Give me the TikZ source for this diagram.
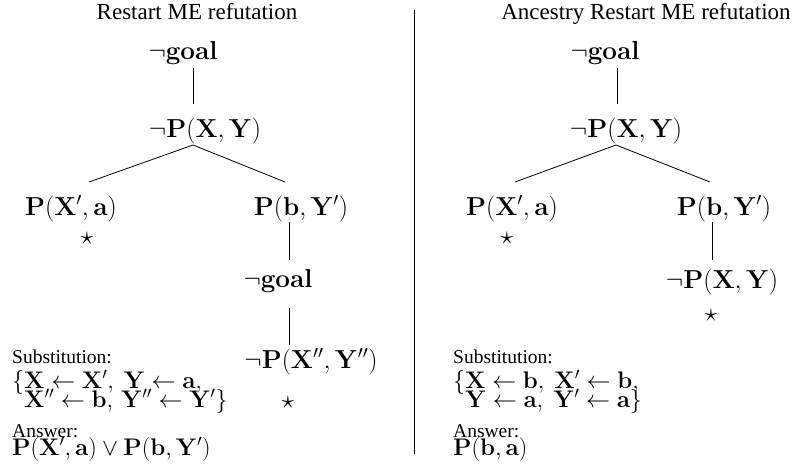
\RequirePackage{fix-cm}
\documentclass[tikz,border=0pt]{standalone}
\usepackage[no-math]{fontspec}
\setmainfont{Liberation Serif}
\tikzset{
  ttl/.style={font=\fontsize{23}{27}\selectfont, anchor=base, inner sep=0pt},
  lit/.style={font=\fontsize{26}{30}\selectfont, anchor=base, inner sep=0pt},
  starmark/.style={font=\fontsize{26}{30}\selectfont, anchor=base, inner sep=0pt},
  lbl/.style={font=\fontsize{19.5}{22}\selectfont, anchor=base west, inner sep=0pt},
  subst/.style={font=\fontsize{24}{27}\selectfont, anchor=base west, inner sep=0pt},
  edge/.style={line width=0.8pt}
}
\begin{document}
\begin{tikzpicture}[x=1pt,y=-1pt]
\useasboundingbox (0,0) rectangle (794,465);
% ---------- left ----------
\node[ttl] (titleA) at (197,20) {Restart ME refutation};
\node[lit] (goalA) at (183,60) {$\neg\mathbf{goal}$};
\node[lit] (pxyA) at (205,138) {$\neg\mathbf{P}(\mathbf{X},\mathbf{Y})$};
\node[lit] (pxaA) at (71,215) {$\mathbf{P}(\mathbf{X}',\mathbf{a})$};
\node[starmark] (s1A) at (87,244) {$\star$};
\node[lit] (pbyA) at (301,215) {$\mathbf{P}(\mathbf{b},\mathbf{Y}')$};
\node[lit] (goal2A) at (278,287) {$\neg\mathbf{goal}$};
\node[lit] (pxyppA) at (311,368) {$\neg\mathbf{P}(\mathbf{X}'',\mathbf{Y}'')$};
\node[starmark] (s2A) at (288,408) {$\star$};
\coordinate (a1) at (193,68);  \coordinate (a2) at (193,104);
\coordinate (a3) at (193,145); \coordinate (a4) at (89,182);
\coordinate (a5) at (285,182);
\coordinate (a6) at (289,222); \coordinate (a7) at (289,260);
\coordinate (a8) at (289,308); \coordinate (a9) at (289,345);
\draw[edge] (a1) -- (a2);
\draw[edge] (a4) -- (a3) -- (a5);
\draw[edge] (a6) -- (a7);
\draw[edge] (a8) -- (a9);
\node[lbl] (subA) at (12,363) {Substitution:};
\node[subst] (setA1) at (12,388) {$\{\mathbf{X}\leftarrow\mathbf{X}',\ \mathbf{Y}\leftarrow\mathbf{a},$};
\node[subst] (setA2) at (12,407) {$\phantom{\{}\mathbf{X}''\leftarrow\mathbf{b},\,\mathbf{Y}''\leftarrow\mathbf{Y}'\}$};
\node[lbl] (ansA) at (12,437) {Answer:};
\node[subst] (ansvA) at (12,455) {$\mathbf{P}(\mathbf{X}',\mathbf{a})\vee\mathbf{P}(\mathbf{b},\mathbf{Y}')$};
% ---------- divider ----------
\coordinate (d1) at (414,10); \coordinate (d2) at (414,454);
\draw[edge] (d1) -- (d2);
% ---------- right ----------
\node[ttl] (titleB) at (646,20) {Ancestry Restart ME refutation};
\node[lit] (goalB) at (605,60) {$\neg\mathbf{goal}$};
\node[lit] (pxyB) at (626,138) {$\neg\mathbf{P}(\mathbf{X},\mathbf{Y})$};
\node[lit] (pxaB) at (512,215) {$\mathbf{P}(\mathbf{X}',\mathbf{a})$};
\node[starmark] (s1B) at (507,244) {$\star$};
\node[lit] (pbyB) at (724,215) {$\mathbf{P}(\mathbf{b},\mathbf{Y}')$};
\node[lit] (pxy2B) at (722,288) {$\neg\mathbf{P}(\mathbf{X},\mathbf{Y})$};
\node[starmark] (s2B) at (711,321) {$\star$};
\coordinate (b1) at (617,68);  \coordinate (b2) at (617,104);
\coordinate (b3) at (616,145); \coordinate (b4) at (515,182);
\coordinate (b5) at (710,182);
\coordinate (b6) at (712,222); \coordinate (b7) at (712,260);
\draw[edge] (b1) -- (b2);
\draw[edge] (b4) -- (b3) -- (b5);
\draw[edge] (b6) -- (b7);
\node[lbl] (subB) at (453,363) {Substitution:};
\node[subst] (setB1) at (453,388) {$\{\mathbf{X}\leftarrow\mathbf{b},\ \mathbf{X}'\leftarrow\mathbf{b},$};
\node[subst] (setB2) at (453,407) {$\phantom{\{}\mathbf{Y}\leftarrow\mathbf{a},\ \mathbf{Y}'\leftarrow\mathbf{a}\}$};
\node[lbl] (ansB) at (453,437) {Answer:};
\node[subst] (ansvB) at (453,455) {$\mathbf{P}(\mathbf{b},\mathbf{a})$};
\end{tikzpicture}
\end{document}
